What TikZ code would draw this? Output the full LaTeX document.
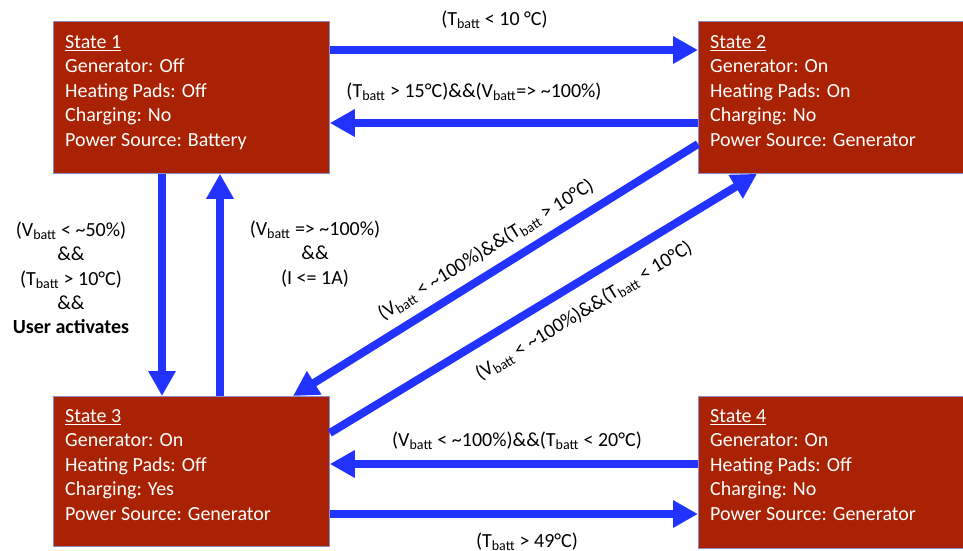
\documentclass[tikz,border=0pt]{standalone}
\usepackage{fontspec}
\setmainfont{Carlito}
\usetikzlibrary{arrows.meta}
\definecolor{boxred}{RGB}{170,34,4}
\definecolor{boxline}{RGB}{140,140,200}
\definecolor{arrblue}{RGB}{34,51,255}
\newcommand{\bt}{\textsubscript{batt}}
\tikzset{
  statebox/.style={draw=boxline, line width=0.8pt, fill=boxred, anchor=north west, inner sep=0pt},
  statetext/.style={anchor=north west, inner sep=0pt, align=left, text=white, font=\fontsize{20}{24.5}\selectfont},
  lbl/.style={inner sep=0pt, align=center, font=\fontsize{20}{24.3}\selectfont},
  arr/.style={draw=arrblue, line width=8pt, -{Triangle[length=25pt,width=26pt]}, shorten >=0pt}
}
\begin{document}
\begin{tikzpicture}[x=1pt,y=-1pt]
\useasboundingbox (0,0) rectangle (963,550);
% boxes
\node[statebox, minimum width=276pt, minimum height=152pt] (s1) at (53,21) {};
\node[statebox, minimum width=272pt, minimum height=152pt] (s2) at (698,21) {};
\node[statebox, minimum width=276pt, minimum height=150pt] (s3) at (53,396) {};
\node[statebox, minimum width=272pt, minimum height=152pt] (s4) at (698,396) {};
% texts
\node[statetext] (t1) at (65,35) {\underline{State 1}\\Generator: Off\\Heating Pads: Off\\Charging: No\\Power Source: Battery};
\node[statetext] (t2) at (710,35) {\underline{State 2}\\Generator: On\\Heating Pads: On\\Charging: No\\Power Source: Generator};
\node[statetext] (t3) at (65,409) {\underline{State 3}\\Generator: On\\Heating Pads: Off\\Charging: Yes\\Power Source: Generator};
\node[statetext] (t4) at (710,409) {\underline{State 4}\\Generator: On\\Heating Pads: Off\\Charging: No\\Power Source: Generator};
% arrows
\draw[arr] (s1.east |- 0,50) -- (s2.west |- 0,50);
\draw[arr] (s2.west |- 0,123) -- (s1.east |- 0,123);
\draw[arr] (162,0 |- s1.south) -- (162,0 |- s3.north);
\draw[arr] (220,0 |- s3.north) -- (220,0 |- s1.south);
\draw[arr] (s2.west |- 0,144) -- (293,0 |- s3.north);
\draw[arr] (s3.east |- 0,433) -- (757,0 |- s2.south);
\draw[arr] (s4.west |- 0,464) -- (s3.east |- 0,464);
\draw[arr] (s3.east |- 0,514) -- (s4.west |- 0,514);
% labels
\node[lbl] (l12) at (494.5,20) {(T\bt{} < 10 °C)};
\node[lbl] (l21) at (474,92) {(T\bt{} > 15°C)\&\&(V\bt{}=> \textasciitilde100\%)};
\node[lbl] (l13) at (71,278) {(V\bt{} < \textasciitilde50\%)\\\&\&\\(T\bt{} > 10°C)\\\&\&\\\textbf{User activates}};
\node[lbl] (l31) at (315,254) {(V\bt{} => \textasciitilde100\%)\\\&\&\\(I <= 1A)};
\node[lbl, rotate=31.8] (l23) at (486,250) {(V\bt{} < \textasciitilde100\%)\&\&(T\bt{} > 10°C)};
\node[lbl, rotate=31.3] (l32) at (584,311) {(V\bt{} < \textasciitilde100\%)\&\&(T\bt{} < 10°C)};
\node[lbl] (l43) at (517,441) {(V\bt{} < \textasciitilde100\%)\&\&(T\bt{} < 20°C)};
\node[lbl] (l34) at (527,542) {(T\bt{} > 49°C)};
\end{tikzpicture}
\end{document}
